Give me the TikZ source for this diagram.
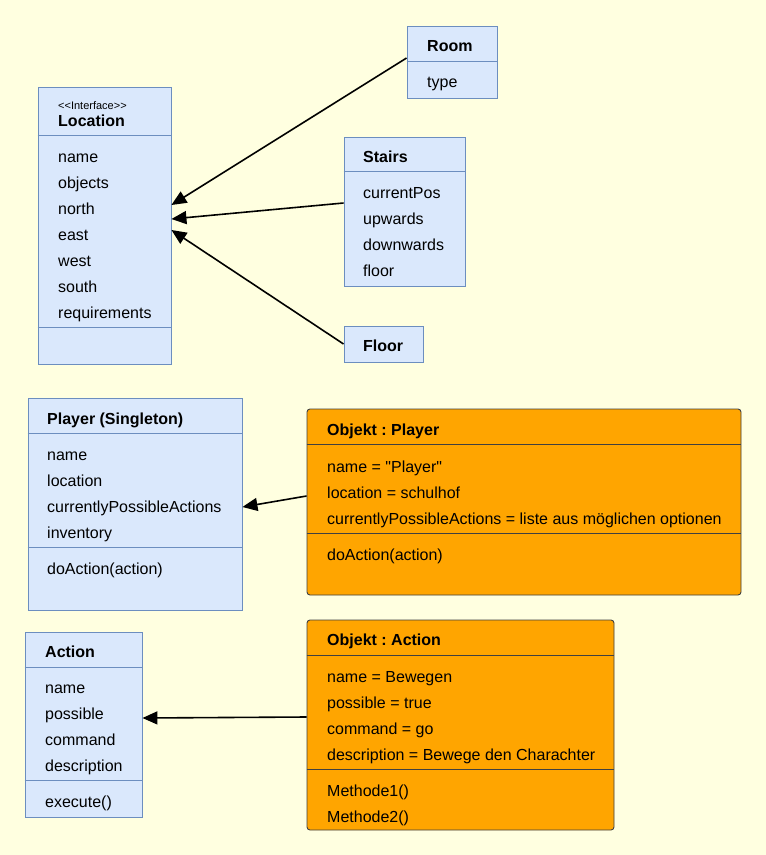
\documentclass[tikz,border=0pt]{standalone}
\usepackage{fontspec}
\setmainfont{Liberation Sans}
\newfontfamily\stereofont[Ligatures=TeXOff]{Liberation Sans}
\usetikzlibrary{arrows.meta}
\definecolor{bgyellow}{HTML}{FFFFE0}
\definecolor{clsfill}{HTML}{DAE8FC}
\definecolor{clsdraw}{HTML}{6C8EBF}
\definecolor{objfill}{HTML}{FFA500}
\frenchspacing

\begin{document}
\begin{tikzpicture}[
    x=1pt, y=-1pt,
    cls/.style={draw=clsdraw,fill=clsfill,line width=0.9pt,inner sep=0pt},
    obj/.style={draw=black!75,fill=objfill,line width=0.9pt,rounded corners=3pt,inner sep=0pt},
    clssep/.style={draw=clsdraw,line width=0.9pt},
    objsep/.style={draw=black!75,line width=0.9pt},
    attr/.style={anchor=west,inner sep=0pt,yshift=-2pt,font=\fontsize{16}{19}\selectfont,text height=11.5pt,text depth=3.5pt},
    title/.style={attr,font=\fontsize{16}{19}\selectfont\bfseries},
    stereo/.style={anchor=west,inner sep=0pt,yshift=-1.5pt,font=\stereofont\fontsize{11}{13}\selectfont},
    >={Triangle[length=15pt,width=13pt]},
    link/.style={->,line width=1.6pt}
]
\fill[bgyellow] (0,0) rectangle (766,855);
\useasboundingbox (0,0) rectangle (766,855);

\node[cls,minimum width=133pt,minimum height=277pt] (location) at (104.5,225.5) {};
\draw[clssep] ([yshift=-49pt]location.north west) -- ([yshift=-49pt]location.north east);
\draw[clssep] ([yshift=-241pt]location.north west) -- ([yshift=-241pt]location.north east);
\node[stereo] (loc-stereo) at (58,104) {<<Interface>>};
\node[title] (loc-title) at (58,120) {Location};
\foreach \t [count=\i] in {name,objects,north,east,west,south,requirements}
  \node[attr] (loc-\i) at (58,130+26*\i) {\t};

\node[cls,minimum width=90pt,minimum height=72pt] (room) at (452,62) {};
\draw[clssep] ([yshift=-36pt]room.north west) -- ([yshift=-36pt]room.north east);
\node[title] (room-title) at (427,45) {Room};
\node[attr] (room-1) at (427,81) {type};

\node[cls,minimum width=121pt,minimum height=149pt] (stairs) at (404.5,211.5) {};
\draw[clssep] ([yshift=-35pt]stairs.north west) -- ([yshift=-35pt]stairs.north east);
\node[title] (stairs-title) at (363,156) {Stairs};
\foreach \t [count=\i] in {currentPos,upwards,downwards,floor}
  \node[attr] (stairs-\i) at (363,166+26*\i) {\t};

\node[cls,minimum width=79pt,minimum height=36pt] (floor) at (383.5,344) {};
\node[title] (floor-title) at (363,345) {Floor};

\node[cls,minimum width=214pt,minimum height=212pt] (player) at (135,504) {};
\draw[clssep] ([yshift=-36pt]player.north west) -- ([yshift=-36pt]player.north east);
\draw[clssep] ([yshift=-150pt]player.north west) -- ([yshift=-150pt]player.north east);
\node[title] (player-title) at (47,418) {Player (Singleton)};
\foreach \t [count=\i] in {name,location,currentlyPossibleActions,inventory}
  \node[attr] (player-\i) at (47,428+26*\i) {\t};
\node[attr] (player-m1) at (47,568) {doAction(action)};

\node[obj,minimum width=434pt,minimum height=186pt] (playerobj) at (524,502) {};
\draw[objsep] ([yshift=-36pt]playerobj.north west) -- ([yshift=-36pt]playerobj.north east);
\draw[objsep] ([yshift=-125pt]playerobj.north west) -- ([yshift=-125pt]playerobj.north east);
\node[title] (playerobj-title) at (327,429) {Objekt : Player};
\foreach \t [count=\i] in {name = \textquotedbl Player\textquotedbl,location = schulhof,currentlyPossibleActions = liste aus möglichen optionen}
  \node[attr] (playerobj-\i) at (327,440+26*\i) {\t};
\node[attr] (playerobj-m1) at (327,554) {doAction(action)};

\node[cls,minimum width=117pt,minimum height=185pt] (action) at (83.5,724.5) {};
\draw[clssep] ([yshift=-36pt]action.north west) -- ([yshift=-36pt]action.north east);
\draw[clssep] ([yshift=-149pt]action.north west) -- ([yshift=-149pt]action.north east);
\node[title] (action-title) at (45,651) {Action};
\foreach \t [count=\i] in {name,possible,command,description}
  \node[attr] (action-\i) at (45,661+26*\i) {\t};
\node[attr] (action-m1) at (45,801) {execute()};

\node[obj,minimum width=307pt,minimum height=210pt] (actionobj) at (460.5,725) {};
\draw[objsep] ([yshift=-36pt]actionobj.north west) -- ([yshift=-36pt]actionobj.north east);
\draw[objsep] ([yshift=-150pt]actionobj.north west) -- ([yshift=-150pt]actionobj.north east);
\node[title] (actionobj-title) at (327,639) {Objekt : Action};
\foreach \t [count=\i] in {name = Bewegen,possible = true,command = go,description = Bewege den Charachter}
  \node[attr] (actionobj-\i) at (327,650+26*\i) {\t};
\node[attr] (actionobj-m1) at (327,790) {Methode1()};
\node[attr] (actionobj-m2) at (327,816) {Methode2()};

\draw[link] ([yshift=4pt]room.west) -- ([yshift=20.5pt]location.east);
\draw[link] ([yshift=8.5pt]stairs.west) -- ([yshift=6.5pt]location.east);
\draw[link] (floor.west) -- ([yshift=-4.5pt]location.east);
\draw[link] ([yshift=6pt]playerobj.west) -- ([yshift=-3pt]player.east);
\draw[link] ([yshift=8pt]actionobj.west) -- ([yshift=6.5pt]action.east);
\end{tikzpicture}
\end{document}
